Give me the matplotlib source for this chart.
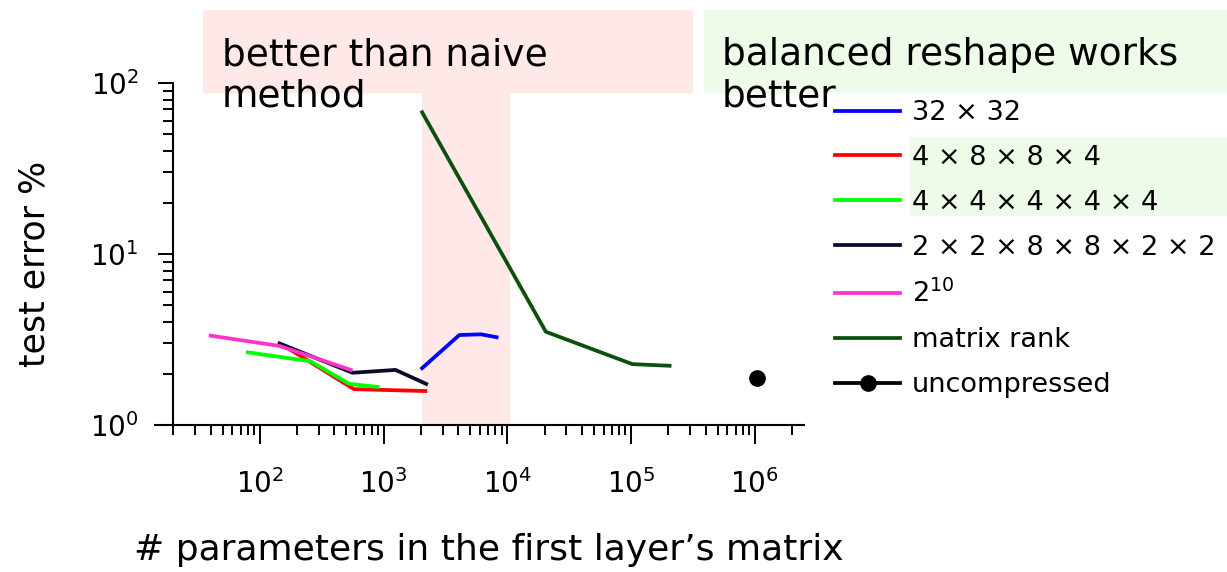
import numpy as np
import matplotlib
matplotlib.use("Agg")
import matplotlib.pyplot as plt
from matplotlib.patches import Rectangle
from matplotlib.ticker import LogLocator, NullFormatter

# data (x = # params, y = test error %)
x_32x32 = [2048, 4096, 6144, 8192]
y_32x32 = [2.15, 3.36, 3.39, 3.26]

x_4884 = [160, 576, 2176]
y_4884 = [2.88, 1.62, 1.58]

x_44444 = [80, 256, 528, 896]
y_44444 = [2.66, 2.36, 1.74, 1.67]

x_228822 = [144, 560, 1248, 2208]
y_228822 = [3.0, 2.02, 2.10, 1.74]

x_2pow10 = [40, 144, 544]
y_2pow10 = [3.33, 2.90, 2.10]

x_rank = [2048, 20480, 102400, 204800]
y_rank = [67.4, 3.51, 2.27, 2.22]

x_full = [1048576]
y_full = [1.89]

labels = ["32 × 32", "4 × 8 × 8 × 4", "4 × 4 × 4 × 4 × 4",
          "2 × 2 × 8 × 8 × 2 × 2", r"$2^{10}$", "matrix rank", "uncompressed"]

W, H = 1227, 572
fig = plt.figure(figsize=(W / 100, H / 100), dpi=100)
ax = fig.add_axes([155 / W, 1 - 425 / H, (804 - 155) / W, (425 - 83) / H])
ax.patch.set_alpha(0)

pink = "#ffe8e8"
green = "#eefbe8"

# highlight boxes
fig.patches.append(Rectangle((203 / W, 1 - 92 / H), (692 - 203) / W, 82 / H,
                             transform=fig.transFigure, color=pink, zorder=-2))
fig.patches.append(Rectangle((704 / W, 1 - 92 / H), (W - 704) / W, 82 / H,
                             transform=fig.transFigure, color=green, zorder=-2))
fig.patches.append(Rectangle((910 / W, 1 - 215 / H), (W - 910) / W, 78 / H,
                             transform=fig.transFigure, color=green, zorder=-2))
ax.axvspan(2048, 10500, color=pink, zorder=0, lw=0)

lw = 2.7
ax.plot(x_32x32, y_32x32, color="#0000ff", lw=lw, label=labels[0])
ax.plot(x_4884, y_4884, color="#ff0000", lw=lw, label=labels[1])
ax.plot(x_44444, y_44444, color="#00ff00", lw=lw, label=labels[2])
ax.plot(x_228822, y_228822, color="#0b0b2a", lw=lw, label=labels[3])
ax.plot(x_2pow10, y_2pow10, color="#ff33cc", lw=lw, label=labels[4])
ax.plot(x_rank, y_rank, color="#0c500c", lw=lw, label=labels[5])
ax.plot(x_full, y_full, "o-", color="black", lw=lw, ms=11, label=labels[6])

ax.set_xscale("log")
ax.set_yscale("log")
ax.set_xlim(14.2, 2.5e6)
ax.set_ylim(1, 100)

ax.spines["top"].set_visible(False)
ax.spines["right"].set_visible(False)
ax.spines["left"].set_position(("data", 20))
for s in ("left", "bottom"):
    ax.spines[s].set_linewidth(1.5)

ax.xaxis.set_major_locator(LogLocator(base=10, numticks=20))
ax.xaxis.set_minor_locator(LogLocator(base=10, subs=np.arange(2, 10), numticks=20))
ax.xaxis.set_minor_formatter(NullFormatter())
ax.yaxis.set_minor_formatter(NullFormatter())

ax.tick_params(axis="x", which="major", direction="out", length=14, width=1.4,
               pad=18, labelsize=20)
ax.tick_params(axis="x", which="minor", direction="out", length=7.5, width=1.4)
ax.tick_params(axis="y", which="major", direction="out", length=11, width=1.4,
               pad=14, labelsize=20)
ax.tick_params(axis="y", which="minor", direction="out", length=7, width=1.4)

ax.set_xlabel("# parameters in the first layer’s matrix", fontsize=26, va="center")
ax.xaxis.set_label_coords((489 - 155) / 649, (425 - 550) / 342)
ax.set_ylabel("test error %", fontsize=25, va="center")
ax.yaxis.set_label_coords((35 - 155) / 649, (425 - 264) / 342)

fig.text(222 / W, 1 - 37 / H, "better than naive\nmethod", fontsize=27,
         va="top", ha="left", linespacing=1.2)
fig.text(722 / W, 1 - 37 / H, "balanced reshape works\nbetter", fontsize=27,
         va="top", ha="left", linespacing=1.2)

fig.legend(loc="upper left", bbox_to_anchor=(835 / W, 1 - 100 / H), frameon=False,
           fontsize=19.5, borderpad=0, borderaxespad=0, handlelength=2.4,
           handletextpad=0.44, labelspacing=0.7, numpoints=1)

fig.savefig("out.png", dpi=100)
